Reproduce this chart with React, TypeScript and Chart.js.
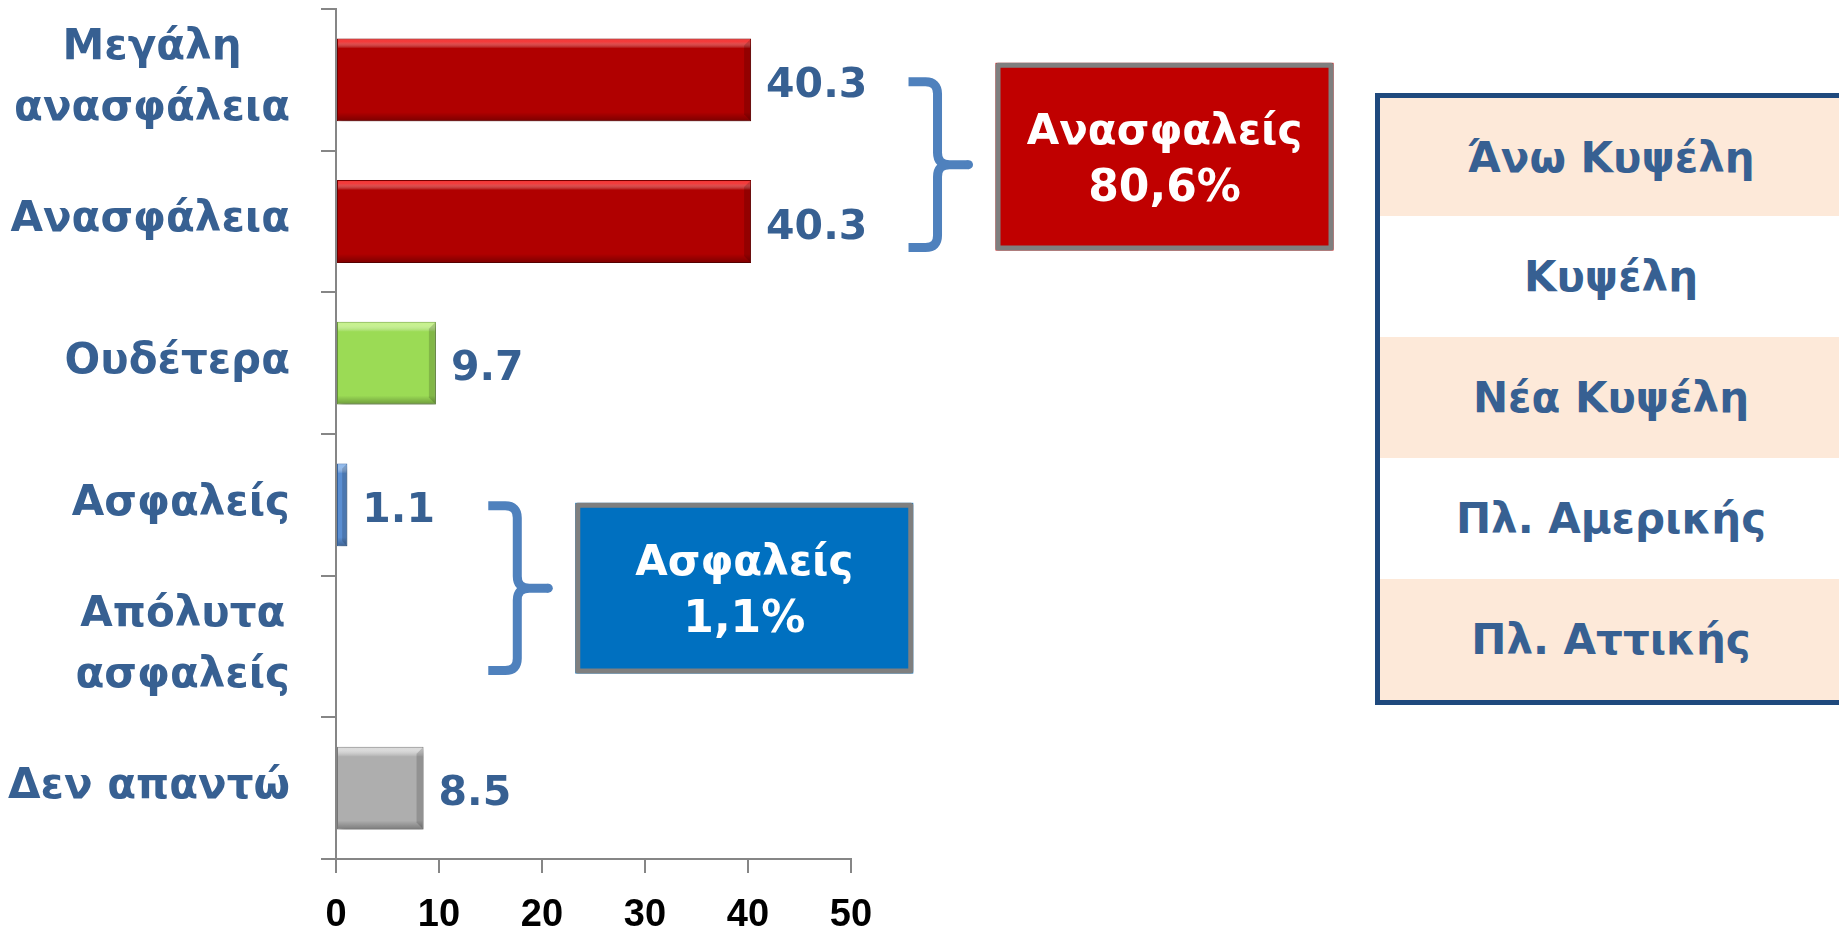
import React, { useEffect, useRef } from "react";
import { Chart, registerables } from "chart.js";

Chart.register(...registerables);

// ---- data ----
const categories: (string | string[])[] = [
  ["Μεγάλη", "ανασφάλεια"],
  "Ανασφάλεια",
  "Ουδέτερα",
  "Ασφαλείς",
  ["Απόλυτα", "ασφαλείς"],
  "Δεν απαντώ",
];
const values: number[] = [40.3, 40.3, 9.7, 1.1, 0, 8.5];
const xTickValues: number[] = [0, 10, 20, 30, 40, 50];

const groupTitles: string[] = ["Ανασφαλείς", "Ασφαλείς"];
const groupShares: string[] = ["80,6%", "1,1%"];
const groupRanges: [number, number][] = [
  [0, 1],
  [3, 4],
];
const areaNames: string[] = ["Άνω Κυψέλη", "Κυψέλη", "Νέα Κυψέλη", "Πλ. Αμερικής", "Πλ. Αττικής"];

// ---- styles ----
const barColors = ["#B00000", "#B00000", "#9BDB55", "#5A8ED2", "#5A8ED2", "#AEAEAE"];
const barEdges = ["#7A0000", "#7A0000", "#6E9E3C", "#3A6AA8", "#3A6AA8", "#808080"];
const barHighlights = ["#FF4545", "#FF4545", "#CFF59A", "#9CC2F0", "#9CC2F0", "#E2E2E2"];
const LABEL_BLUE = "#376092";
const AXIS_GRAY = "#868686";
const BRACE_BLUE = "#4F81BD";
const groupFills = ["#C00000", "#0070C0"];
const CAT_FONT_SIZE = 42;
const CAT_LINE_HEIGHT = 61;
const TICK_LEN_Y = 15;
const TICK_PAD_Y = 31;
// brace stem position in x-scale units, box geometry offsets (px)
const braceStemValue = [58.4, 17.6];
const boxTopOffset = [-17, -2];
const boxBottomOffset = [29, 27];
const braceBottomOffset = [26, 24];
const braceTopOffset = [2, 1];

export default function App() {
  const ref = useRef<HTMLCanvasElement>(null);

  useEffect(() => {
    const canvas = ref.current;
    if (!canvas) return;

    const categoryLabelPlugin = {
      id: "categoryLabels",
      afterDraw(chart: any) {
        const ctx = chart.ctx;
        const ys = chart.scales.y;
        const rightEdge = chart.chartArea.left - TICK_LEN_Y - TICK_PAD_Y;
        ctx.save();
        ctx.font = `bold ${CAT_FONT_SIZE}px 'DejaVu Sans'`;
        ctx.fillStyle = LABEL_BLUE;
        ctx.textAlign = "center";
        ctx.textBaseline = "middle";
        categories.forEach((lab, i) => {
          const lines = Array.isArray(lab) ? lab : [lab];
          const widest = Math.max(...lines.map((l) => ctx.measureText(l).width));
          const cx = rightEdge - widest / 2;
          const cy = ys.getPixelForValue(i);
          const startY = cy - ((lines.length - 1) * CAT_LINE_HEIGHT) / 2;
          lines.forEach((l, k) => ctx.fillText(l, cx, startY + k * CAT_LINE_HEIGHT - 1));
        });
        ctx.restore();
      },
    };

    const shadowPlugin = {
      id: "barShadow",
      beforeDatasetsDraw(chart: any) {
        const ctx = chart.ctx;
        ctx.save();
        ctx.shadowColor = "rgba(0,0,0,0.35)";
        ctx.shadowBlur = 6;
        ctx.shadowOffsetX = 2;
        ctx.shadowOffsetY = 4;
      },
      afterDatasetsDraw(chart: any) {
        const ctx = chart.ctx;
        ctx.restore();
        const meta = chart.getDatasetMeta(0);
        meta.data.forEach((el: any, i: number) => {
          const p = el.getProps(["x", "y", "base", "height"], true);
          const left = Math.min(p.x, p.base);
          const right = Math.max(p.x, p.base);
          const top = p.y - p.height / 2;
          const bottom = p.y + p.height / 2;
          const w = right - left;
          if (w < 1) return;
          ctx.save();
          const g1 = ctx.createLinearGradient(0, top, 0, top + 10);
          g1.addColorStop(0, barHighlights[i]);
          g1.addColorStop(0.35, barHighlights[i]);
          g1.addColorStop(1, "rgba(255,255,255,0)");
          ctx.globalAlpha = 0.85;
          ctx.fillStyle = g1;
          ctx.fillRect(left + 1, top + 1, w - 2, 10);
          const g2 = ctx.createLinearGradient(0, bottom - 9, 0, bottom);
          g2.addColorStop(0, "rgba(0,0,0,0)");
          g2.addColorStop(1, "rgba(0,0,0,0.3)");
          ctx.globalAlpha = 1;
          ctx.fillStyle = g2;
          ctx.fillRect(left + 1, bottom - 9, w - 2, 8);
          const bw = Math.min(7, w / 2);
          ctx.beginPath();
          ctx.moveTo(right - 1, top + 1);
          ctx.lineTo(right - 1, bottom - 1);
          ctx.lineTo(right - bw, bottom - bw);
          ctx.lineTo(right - bw, top + bw);
          ctx.closePath();
          ctx.fillStyle = "rgba(0,0,0,0.16)";
          ctx.fill();
          ctx.restore();
        });
      },
    };

    const valueLabelPlugin = {
      id: "valueLabels",
      afterDatasetsDraw(chart: any) {
        const ctx = chart.ctx;
        const meta = chart.getDatasetMeta(0);
        ctx.save();
        ctx.font = "bold 41px 'DejaVu Sans'";
        ctx.fillStyle = LABEL_BLUE;
        ctx.textAlign = "left";
        ctx.textBaseline = "alphabetic";
        meta.data.forEach((el: any, i: number) => {
          const v = values[i];
          if (!v) return;
          const p = el.getProps(["x", "y"], true);
          ctx.fillText(v.toFixed(1), p.x + 15, p.y + 17);
        });
        ctx.restore();
      },
    };

    const groupPlugin = {
      id: "groups",
      afterDraw(chart: any) {
        const ctx = chart.ctx;
        const xs = chart.scales.x;
        const ys = chart.scales.y;
        groupRanges.forEach(([a, b], gi) => {
          const ca = ys.getPixelForValue(a);
          const cb = ys.getPixelForValue(b);
          const stem = xs.getPixelForValue(braceStemValue[gi]);
          const left = stem - 29;
          const tip = stem + 31;
          const top = ca + braceTopOffset[gi];
          const bottom = cb + braceBottomOffset[gi];
          const mid = (top + bottom) / 2;
          const r = 12;
          ctx.save();
          ctx.strokeStyle = BRACE_BLUE;
          ctx.lineWidth = 9;
          ctx.lineCap = "butt";
          ctx.lineJoin = "round";
          ctx.beginPath();
          ctx.moveTo(left, top);
          ctx.lineTo(stem - r, top);
          ctx.quadraticCurveTo(stem, top, stem, top + r);
          ctx.lineTo(stem, mid - r);
          ctx.quadraticCurveTo(stem, mid, stem + r, mid);
          ctx.lineTo(tip, mid);
          ctx.moveTo(stem + r, mid);
          ctx.quadraticCurveTo(stem, mid, stem, mid + r);
          ctx.lineTo(stem, bottom - r);
          ctx.quadraticCurveTo(stem, bottom, stem - r, bottom);
          ctx.lineTo(left, bottom);
          ctx.stroke();
          ctx.beginPath();
          ctx.arc(tip, mid, 4.5, 0, Math.PI * 2);
          ctx.fillStyle = BRACE_BLUE;
          ctx.fill();

          const bx = tip + 27;
          const bwid = 338;
          const by = ca + boxTopOffset[gi];
          const bh = cb + boxBottomOffset[gi] - by;
          ctx.fillStyle = groupFills[gi];
          ctx.fillRect(bx, by, bwid, bh);
          ctx.strokeStyle = "#7F7F7F";
          ctx.lineWidth = 5;
          ctx.lineJoin = "round";
          ctx.strokeRect(bx + 2.5, by + 2.5, bwid - 5, bh - 5);
          ctx.fillStyle = "#FFFFFF";
          ctx.textAlign = "center";
          ctx.textBaseline = "alphabetic";
          const cx = bx + bwid / 2;
          const cy = by + bh / 2;
          ctx.font = "bold 42px 'DejaVu Sans'";
          ctx.fillText(groupTitles[gi], cx, cy - 28 + 15);
          ctx.font = "bold 44px 'DejaVu Sans'";
          ctx.fillText(groupShares[gi], cx, cy + 28 + 16);
          ctx.restore();
        });
      },
    };

    const chart = new Chart(canvas, {
      type: "bar",
      data: {
        labels: categories as any,
        datasets: [
          {
            data: values,
            backgroundColor: barColors,
            borderColor: barEdges,
            borderWidth: 1,
            borderSkipped: false,
            barPercentage: 0.585,
            categoryPercentage: 1,
          },
        ],
      },
      options: {
        indexAxis: "y",
        responsive: false,
        maintainAspectRatio: false,
        animation: false,
        layout: { padding: { left: 0, top: 9, right: 988, bottom: 0 } },
        plugins: { legend: { display: false }, tooltip: { enabled: false } },
        scales: {
          x: {
            type: "linear",
            min: 0,
            max: 50,
            afterBuildTicks: (s: any) => {
              s.ticks = xTickValues.map((v) => ({ value: v }));
            },
            grid: { drawOnChartArea: false, drawTicks: true, tickLength: 14, color: AXIS_GRAY, lineWidth: 2 },
            border: { color: AXIS_GRAY, width: 2 },
            ticks: {
              color: "#000000",
              autoSkip: false,
              maxRotation: 0,
              padding: 20,
              font: { family: "'Liberation Sans', Arial, sans-serif", size: 38, weight: "bold", lineHeight: 1.2 },
            },
            afterFit: (s: any) => {
              s.height = 70;
              s.paddingLeft = 0;
              s.paddingRight = 0;
            },
          },
          y: {
            grid: { drawOnChartArea: false, drawTicks: true, tickLength: TICK_LEN_Y, color: AXIS_GRAY, lineWidth: 2, offset: true },
            border: { color: AXIS_GRAY, width: 2 },
            ticks: { display: false, autoSkip: false },
            afterFit: (s: any) => {
              s.width = 336;
              s.paddingTop = 0;
              s.paddingBottom = 0;
            },
          },
        },
      } as any,
      plugins: [shadowPlugin, valueLabelPlugin, groupPlugin, categoryLabelPlugin],
    });
    return () => chart.destroy();
  }, []);

  const rowHeights = [118, 121, 121, 121, 121];

  return (
    <div
      style={{
        position: "fixed",
        left: 0,
        top: 0,
        width: 1839,
        height: 929,
        overflow: "hidden",
        background: "#FFFFFF",
      }}
    >
      <canvas ref={ref} width={1839} height={929} style={{ position: "absolute", left: 0, top: 0, width: 1839, height: 929 }} />
      <div
        style={{
          position: "absolute",
          left: 1375,
          top: 93,
          width: 462,
          border: "5px solid #1F497D",
          fontFamily: "'DejaVu Sans', sans-serif",
          fontWeight: "bold",
          fontSize: 42,
          color: LABEL_BLUE,
        }}
      >
        {areaNames.map((name, i) => (
          <div
            key={name}
            style={{
              height: rowHeights[i],
              background: i % 2 === 0 ? "#FDE9D9" : "#FFFFFF",
              display: "flex",
              alignItems: "center",
              justifyContent: "center",
              whiteSpace: "nowrap",
            }}
          >
            {name}
          </div>
        ))}
      </div>
    </div>
  );
}
